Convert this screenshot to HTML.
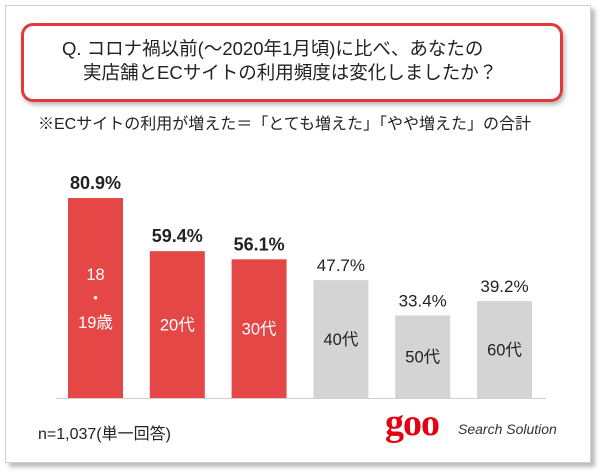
<!DOCTYPE html>
<html><head><meta charset="utf-8"><style>
body{margin:0;width:600px;height:475px;background:#fff;font-family:"Liberation Sans","Noto Sans CJK JP",sans-serif;position:relative;overflow:hidden}
.card{position:absolute;left:5px;top:5px;width:584px;height:456px;border:1px solid #d0d0d0;box-shadow:4px 4px 4px #bdbdbd;background:#fff}
.q{position:absolute;left:21px;top:23px;width:536px;height:73px;border:3px solid #e03a3a;border-radius:12px;box-shadow:2px 3px 4px #bbb;font-size:18.5px;color:#222;line-height:23px}
.t{position:absolute;white-space:nowrap}
</style></head><body>
<div class="card"></div>
<div class="q">
<div class="t" style="left:38px;top:11px">Q. コロナ禍以前(～2020年1月頃)に比べ、あなたの</div>
<div class="t" style="left:59px;top:35px">実店舗とECサイトの利用頻度は変化しましたか？</div>
</div>
<div class="t" style="left:38px;top:110px;font-size:16px;color:#222">※ECサイトの利用が増えた＝「とても増えた」「やや増えた」の合計</div>
<svg id="chart" width="600" height="475" style="position:absolute;left:0;top:0"></svg>
<div class="t" style="left:38px;top:420px;font-size:16px;color:#222">n=1,037(単一回答)</div>
<div class="t" style="left:385px;top:401px;font-size:38px;color:#e60012;font-family:'Liberation Serif',serif;font-weight:bold;letter-spacing:-1px">goo</div>
<div class="t" style="left:458px;top:421px;font-size:14px;color:#333;font-style:italic">Search Solution</div>
<script>
const categories=["18\n・\n19歳","20代","30代","40代","50代","60代"];
const values=[80.9,59.4,56.1,47.7,33.4,39.2];
const labels=["80.9%","59.4%","56.1%","47.7%","33.4%","39.2%"];
const highlighted=[true,true,true,false,false,false];
const svg=document.getElementById('chart');const NS="http://www.w3.org/2000/svg";
const base=398,scale=200/80.9,x0=68,pitch=81.8,bw=55;
const y=v=>base-v*scale;
function mk(t,a){const e=document.createElementNS(NS,t);for(const k in a)e.setAttribute(k,a[k]);svg.appendChild(e);return e;}
values.forEach((v,i)=>{
const x=x0+i*pitch,top=y(v),hi=highlighted[i];
const r=mk('rect',{x:x,y:top,width:bw,height:base-top,fill:hi?'#e54646':'#d4d4d4'});


const t=mk('text',{x:x+bw/2,y:top-9,'text-anchor':'middle','font-size':hi?18:17,'font-weight':hi?'bold':'normal',fill:'#222'});
t.textContent=labels[i];


const lines=categories[i].split('\n');const mid=(top+base)/2;
lines.forEach((ln,j)=>{
const c=mk('text',{x:x+bw/2,y:mid+6+(j-(lines.length-1)/2)*24,'text-anchor':'middle','font-size':16.5,fill:hi?'#fff':'#222'});
c.textContent=ln;


});
});
const ax=mk('line',{x1:56,x2:546,y1:base+0.5,y2:base+0.5,stroke:'#d0d0d0','stroke-width':1});


</script>
</body></html>
